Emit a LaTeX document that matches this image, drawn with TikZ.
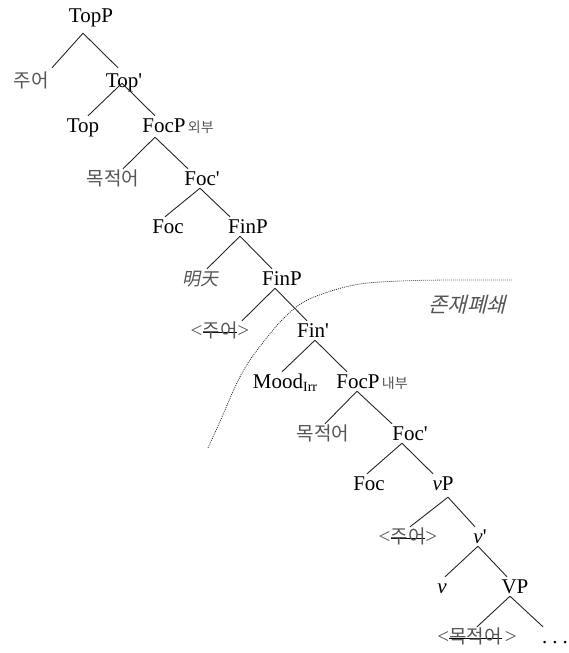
\documentclass[tikz,border=0pt]{standalone}
\usepackage{fontspec}
\setmainfont{Liberation Serif}
\newfontfamily\kr{Noto Sans CJK KR}
\newfontfamily\krit{Noto Sans CJK KR}[FakeSlant=0.25]
\newfontfamily\zhit{Noto Sans CJK SC}[FakeSlant=0.2]
\definecolor{kg}{RGB}{85,85,85}
\newsavebox\strkbox
\newcommand\strk[1]{\sbox\strkbox{#1}\rlap{\color{black}\rule[4pt]{\wd\strkbox}{0.7pt}}\usebox\strkbox}
\newcommand\ltsym{{\rmfamily\fontsize{21}{24}\selectfont<}}
\newcommand\gtsym{{\rmfamily\fontsize{21}{24}\selectfont>}}
\newcommand\pr{\textquotesingle}
\begin{document}
\begin{tikzpicture}[x=1pt,y=-1pt,
  lab/.style={anchor=base,inner xsep=0pt,inner ysep=3pt,text height=13pt,text depth=0pt,font=\fontsize{21}{24}\selectfont,text=black},
  klab/.style={lab,font=\kr\fontsize{19}{22}\selectfont,text=kg},
  br/.style={draw=black!85,line width=0.9pt},
  closure/.style={draw=black!85,line width=0.8pt,dash pattern=on 0.9pt off 1.1pt}]
\useasboundingbox (0,0) rectangle (569,653);

\node[lab] (TopP) at (91,22) {TopP};
\node[klab] (zuo1) at (31,87) {주어};
\node[lab] (Topb) at (124,87) {Top\pr};
\node[lab] (Top) at (83,132) {Top};
\node[lab] (FocPo) at (164,132) {FocP\rlap{\kr\color{kg}\fontsize{14}{16}\selectfont\,외부}};
\node[klab] (mok1) at (113,185) {목적어};
\node[lab] (Focb1) at (202,185) {Foc\pr};
\node[lab] (Foc1) at (168,233) {Foc};
\node[lab] (FinP1) at (248,233) {FinP};
\node[lab,font=\zhit\fontsize{18}{21}\selectfont,text=kg] (ming) at (200,285) {明天};
\node[lab] (FinP2) at (282,285) {FinP};
\node[klab] (zuo2) at (220,337) {\ltsym\strk{주어}\gtsym};
\node[lab] (Finb) at (313,337) {Fin\pr};
\node[lab] (Mood) at (278,388) {Mood\rlap{\raisebox{-3pt}{\fontsize{14}{16}\selectfont Irr}}};
\node[lab] (FocPi) at (358,388) {FocP\rlap{\kr\color{kg}\fontsize{14}{16}\selectfont\,내부}};
\node[klab] (mok2) at (323,440) {목적어};
\node[lab] (Focb2) at (410,440) {Foc\pr};
\node[lab] (Foc2) at (369,490) {Foc};
\node[lab] (vP) at (443,490) {\textit{v}P};
\node[klab] (zuo3) at (408,543) {\ltsym\strk{주어}\gtsym};
\node[lab] (vb) at (480,543) {\textit{v}\pr};
\node[lab] (v) at (442,593) {\textit{v}};
\node[lab] (VP) at (515,593) {VP};
\node[klab] (mok3) at (477,643) {\ltsym\strk{목적어}\,\gtsym};
\node[lab,anchor=base west] (dots) at (542,643) {.\hspace{5pt}.\hspace{5pt}.};
\node[lab,font=\krit\fontsize{21}{24}\selectfont,text=kg] (jon) at (467,312) {존재폐쇄};

\draw[br] ([xshift=-8pt,yshift=-8pt]TopP.south) -- ([xshift=21pt,yshift=3pt]zuo1.north);
\draw[br] ([xshift=-8pt,yshift=-8pt]TopP.south) -- ([xshift=-6pt,yshift=3pt]Topb.north);
\draw[br] ([xshift=-2pt,yshift=7pt]Topb.south) -- ([xshift=5pt]Top.north);
\draw[br] ([xshift=-2pt,yshift=7pt]Topb.south) -- ([xshift=-9pt]FocPo.north);
\draw[br] ([xshift=-9pt,yshift=-2pt]FocPo.south) -- ([xshift=10pt]mok1.north);
\draw[br] ([xshift=-9pt,yshift=-2pt]FocPo.south) -- ([xshift=-14pt]Focb1.north);
\draw[br] ([xshift=-2pt]Focb1.south) -- ([xshift=-3pt]Foc1.north);
\draw[br] ([xshift=-2pt]Focb1.south) -- ([xshift=-18pt]FinP1.north);
\draw[br] ([xshift=-8pt]FinP1.south) -- ([xshift=7pt]ming.north);
\draw[br] ([xshift=-8pt]FinP1.south) -- ([xshift=-10pt]FinP2.north);
\draw[br] ([xshift=-7pt]FinP2.south) -- ([xshift=22pt]zuo2.north);
\draw[br] ([xshift=-7pt]FinP2.south) -- ([xshift=-6pt]Finb.north);
\draw[br] ([xshift=2pt]Finb.south) -- ([xshift=4pt]Mood.north);
\draw[br] ([xshift=2pt]Finb.south) -- ([xshift=-11pt]FocPi.north);
\draw[br] ([xshift=-1pt]FocPi.south) -- ([xshift=2pt]mok2.north);
\draw[br] ([xshift=-1pt]FocPi.south) -- ([xshift=-18pt]Focb2.north);
\draw[br] ([xshift=-8pt]Focb2.south) -- ([xshift=-2pt]Foc2.north);
\draw[br] ([xshift=-8pt]Focb2.south) -- ([xshift=-10pt]vP.north);
\draw[br] ([xshift=5pt,yshift=-4pt]vP.south) -- ([xshift=2pt]zuo3.north);
\draw[br] ([xshift=5pt,yshift=-4pt]vP.south) -- ([xshift=-5pt]vb.north);
\draw[br] ([xshift=-2pt]vb.south) -- ([xshift=3pt]v.north);
\draw[br] ([xshift=-2pt]vb.south) -- ([xshift=-8pt]VP.north);
\draw[br] ([xshift=-5pt]VP.south) -- (mok3.north);
\draw[br] ([xshift=-5pt]VP.south) -- ([xshift=1pt]dots.north west);

\draw[closure] plot[smooth,tension=0.6] coordinates {(208,448) (222,417) (235,387) (248,363) (265,340) (282,320) (302,303) (328,292) (360,284) (400,281) (450,280) (513,280)};
\end{tikzpicture}
\end{document}
